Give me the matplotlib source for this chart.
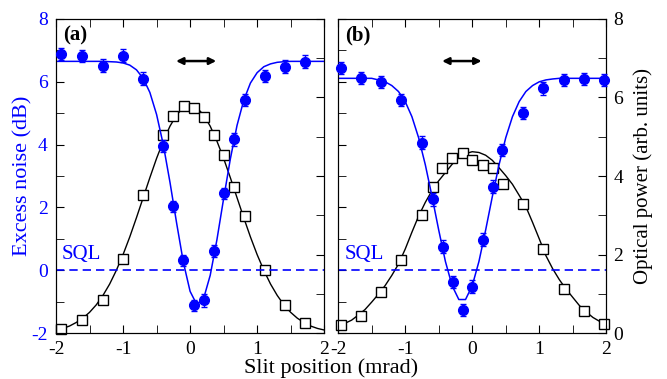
import matplotlib
matplotlib.use("Agg")
import matplotlib.pyplot as plt
from matplotlib.ticker import MultipleLocator

plt.rcParams["font.family"] = ["Liberation Serif", "DejaVu Serif"]
plt.rcParams["axes.unicode_minus"] = False

AZUL = "#0000ff"

# Rejilla en la que se leyeron las curvas de ajuste
fit_x = [-2.0, -1.9, -1.8, -1.7, -1.6, -1.5, -1.4, -1.3, -1.2, -1.1, -1.0,
         -0.9, -0.8, -0.7, -0.6, -0.5, -0.4, -0.3, -0.2, -0.1, 0.0,
         0.1, 0.2, 0.3, 0.4, 0.5, 0.6, 0.7, 0.8, 0.9, 1.0,
         1.1, 1.2, 1.3, 1.4, 1.5, 1.6, 1.7, 1.8, 1.9, 2.0]

# Panel (a)
ruido_x_a = [-1.93, -1.61, -1.30, -1.00, -0.70, -0.40, -0.25, -0.10, 0.055,
             0.20, 0.36, 0.51, 0.66, 0.82, 1.12, 1.42, 1.72]
ruido_a = [6.88, 6.82, 6.51, 6.83, 6.10, 3.96, 2.04, 0.32, -1.12,
           -0.96, 0.61, 2.45, 4.17, 5.42, 6.18, 6.48, 6.64]
ruido_err_a = [0.2, 0.2, 0.2, 0.2, 0.2, 0.2, 0.18, 0.18, 0.18,
               0.2, 0.2, 0.18, 0.2, 0.2, 0.2, 0.2, 0.2]
pot_x_a = [-1.92, -1.61, -1.30, -1.00, -0.70, -0.40, -0.25, -0.09, 0.06,
           0.21, 0.36, 0.51, 0.66, 0.82, 1.12, 1.42, 1.72]
pot_a = [0.11, 0.34, 0.85, 1.90, 3.52, 5.04, 5.54, 5.78, 5.74,
         5.51, 5.05, 4.53, 3.72, 2.98, 1.61, 0.71, 0.25]
ruido_fit_a = [6.65, 6.65, 6.65, 6.65, 6.65, 6.65, 6.65, 6.65, 6.64, 6.63, 6.60,
               6.53, 6.38, 6.11, 5.66, 4.96, 4.00, 2.80, 1.49, 0.25, -0.67,
               -1.09, -0.91, -0.16, 0.97, 2.28, 3.54, 4.61, 5.41, 5.96, 6.29,
               6.48, 6.57, 6.62, 6.64, 6.65, 6.65, 6.65, 6.65, 6.65, 6.65]
pot_fit_a = [0.08, 0.12, 0.18, 0.27, 0.38, 0.53, 0.72, 0.96, 1.25, 1.60, 2.00,
             2.45, 2.94, 3.45, 3.96, 4.45, 4.89, 5.27, 5.56, 5.74, 5.80,
             5.74, 5.56, 5.27, 4.89, 4.45, 3.96, 3.45, 2.94, 2.45, 2.00,
             1.60, 1.25, 0.96, 0.72, 0.53, 0.38, 0.27, 0.18, 0.12, 0.08]

# Panel (b)
ruido_x_b = [-1.96, -1.66, -1.36, -1.06, -0.75, -0.59, -0.44, -0.29, -0.14,
             0.0, 0.16, 0.31, 0.45, 0.75, 1.06, 1.37, 1.67, 1.97]
ruido_b = [6.44, 6.12, 6.00, 5.42, 4.06, 2.26, 0.75, -0.37, -1.27,
           -0.52, 0.98, 2.66, 3.83, 5.00, 5.79, 6.06, 6.09, 6.06]
ruido_err_b = [0.2, 0.2, 0.2, 0.2, 0.2, 0.2, 0.2, 0.2, 0.2,
               0.2, 0.2, 0.2, 0.2, 0.2, 0.2, 0.2, 0.2, 0.2]
pot_x_b = [-1.96, -1.66, -1.36, -1.06, -0.75, -0.59, -0.45, -0.30, -0.14,
           0.0, 0.16, 0.31, 0.46, 0.76, 1.06, 1.37, 1.67, 1.97]
pot_b = [0.21, 0.44, 1.06, 1.85, 3.02, 3.71, 4.20, 4.47, 4.58,
         4.41, 4.27, 4.20, 3.81, 3.29, 2.13, 1.13, 0.57, 0.24]
ruido_fit_b = [6.11, 6.11, 6.11, 6.11, 6.11, 6.11, 6.06, 6.00, 5.88, 5.69, 5.37,
               4.89, 4.22, 3.36, 2.35, 1.28, 0.28, -0.49, -0.93, -0.93, -0.49,
               0.28, 1.28, 2.35, 3.36, 4.22, 4.89, 5.37, 5.69, 5.88, 6.00,
               6.06, 6.09, 6.11, 6.11, 6.11, 6.11, 6.11, 6.11, 6.11, 6.11]
pot_fit_b = [0.18, 0.25, 0.33, 0.46, 0.60, 0.79, 0.99, 1.21, 1.47, 1.76, 2.14,
             2.57, 2.98, 3.33, 3.63, 3.88, 4.09, 4.30, 4.47, 4.57, 4.62,
             4.60, 4.53, 4.40, 4.21, 4.01, 3.79, 3.51, 3.22, 2.82, 2.40,
             1.97, 1.64, 1.36, 1.12, 0.91, 0.70, 0.54, 0.40, 0.30, 0.22]

fig = plt.figure(figsize=(6.67, 3.79), dpi=100)


def dibujar_panel(rect, rx, ry, rerr, px, py, rfit, pfit, etiqueta, flecha, izquierda):
    ax = fig.add_axes(rect)
    ax2 = ax.twinx()

    # ruido en exceso (eje izquierdo, azul)
    ax.axhline(0, color=AZUL, lw=1.2, ls=(0, (5, 3)))
    ax.plot(fit_x, rfit, color=AZUL, lw=1.1)
    ax.errorbar(rx, ry, yerr=rerr, fmt="o", color=AZUL, ms=7, capsize=2.5,
                elinewidth=1, capthick=1, clip_on=False, zorder=4)
    ax.text(-1.91, 0.35, "SQL", color=AZUL, fontsize=15)
    ax.text(-1.9, 7.3, etiqueta, fontsize=15, fontweight="bold")
    ax.annotate("", xy=(flecha[1], 6.66), xytext=(flecha[0], 6.66),
                arrowprops=dict(arrowstyle="<|-|>", color="black", lw=1.8,
                                mutation_scale=10, shrinkA=0, shrinkB=0))

    # potencia optica (eje derecho, negro)
    ax2.plot(fit_x, pfit, color="black", lw=1.0)
    ax2.plot(px, py, "s", mfc="white", mec="black", ms=6.5, mew=1.0,
             clip_on=False, zorder=5)

    ax.set_xlim(-2, 2)
    ax.set_ylim(-2, 8)
    ax2.set_ylim(0, 8)
    ax.xaxis.set_major_locator(MultipleLocator(1))
    ax.xaxis.set_minor_locator(MultipleLocator(0.5))
    ax.yaxis.set_major_locator(MultipleLocator(2))
    ax.yaxis.set_minor_locator(MultipleLocator(1))
    ax2.yaxis.set_major_locator(MultipleLocator(2))
    ax2.yaxis.set_minor_locator(MultipleLocator(1))

    ax.tick_params(which="both", direction="in", top=True, right=False,
                   labelsize=14, pad=6, length=6)
    ax2.tick_params(which="both", direction="in", labelsize=14, pad=5, length=6)
    ax.set_zorder(ax2.get_zorder() + 1)
    ax.patch.set_visible(False)

    if izquierda:
        ax.tick_params(axis="y", labelcolor=AZUL)
        ax2.tick_params(labelright=False)
        ax.set_ylabel("Excess noise (dB)", color=AZUL, fontsize=16)
        ax.yaxis.set_label_coords(-0.086, 0.5)
    else:
        ax.tick_params(labelleft=False)
        ax2.set_ylabel("Optical power (arb. units)", fontsize=15)
        ax2.yaxis.set_label_coords(1.10, 0.5)
    return ax, ax2


dibujar_panel([0.084, 0.121, 0.402, 0.829], ruido_x_a, ruido_a, ruido_err_a,
              pot_x_a, pot_a, ruido_fit_a, pot_fit_a, "(a)", (-0.21, 0.39), True)
dibujar_panel([0.507, 0.121, 0.402, 0.829], ruido_x_b, ruido_b, ruido_err_b,
              pot_x_b, pot_b, ruido_fit_b, pot_fit_b, "(b)", (-0.45, 0.14), False)

fig.text(0.497, 0.029, "Slit position (mrad)", ha="center", va="center", fontsize=16)

fig.savefig("out.png", dpi=100)
